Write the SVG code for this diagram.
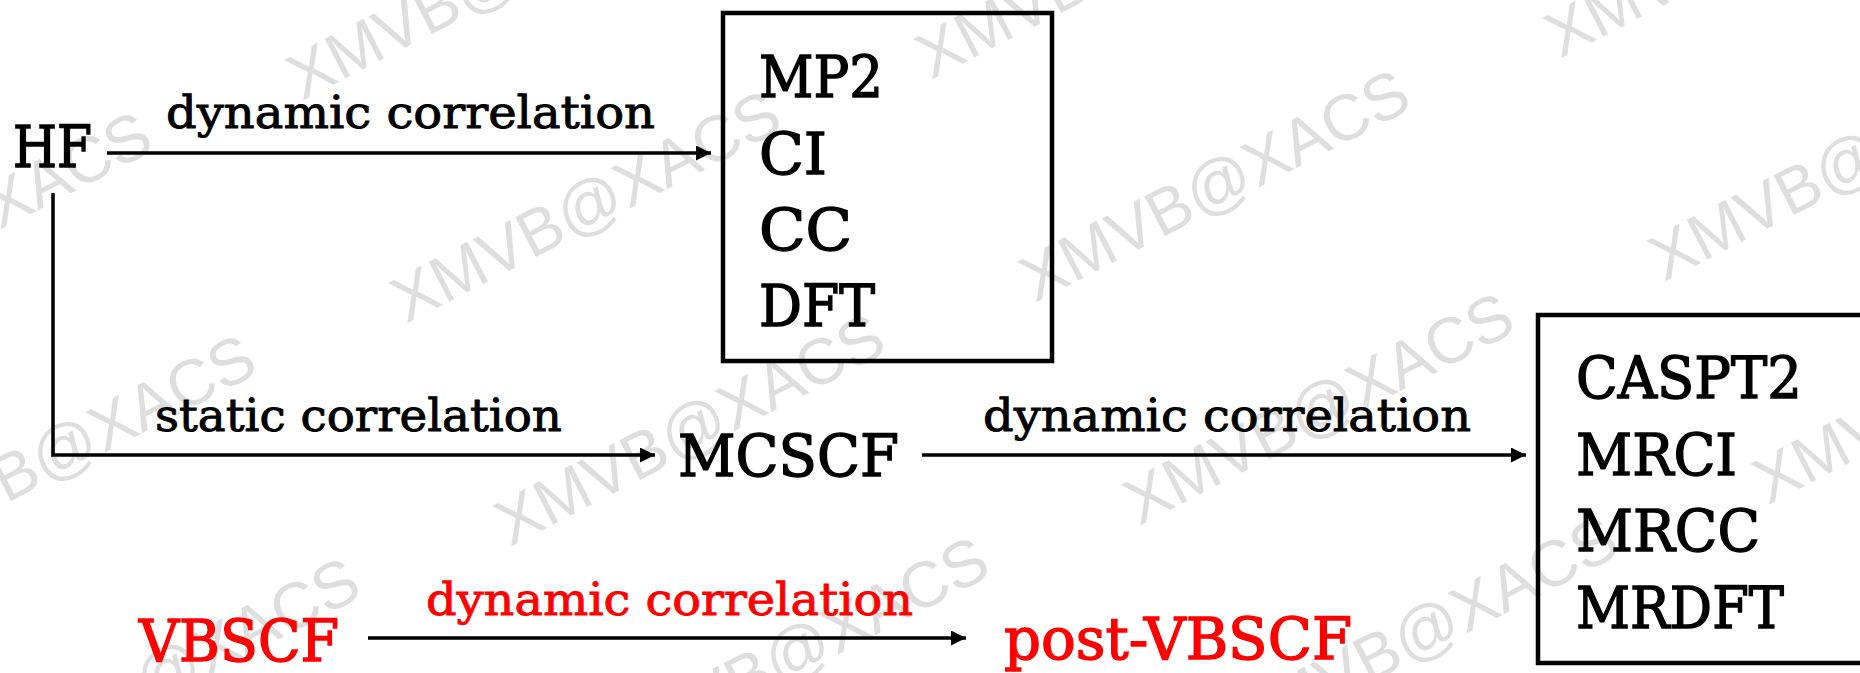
<svg xmlns="http://www.w3.org/2000/svg" width="1860" height="673" viewBox="0 0 1860 673">
<style>
.wm{font-family:"Liberation Sans",Arial,sans-serif;font-size:65px;fill:#dedede}
.big{font-family:"DejaVu Serif",serif;font-size:57px;fill:#000;stroke:#000;stroke-width:1.4}
.lbl{font-family:"DejaVu Serif",serif;font-size:45px;fill:#000;stroke:#000;stroke-width:0.9}
.red{fill:#ff0000;stroke:#ff0000}
.conn{stroke:#000;stroke-width:3.5;fill:none}
.box{stroke:#000;stroke-width:4.5;fill:none}
</style>
<defs>
<marker id="ah" markerUnits="userSpaceOnUse" markerWidth="16" markerHeight="16" refX="15" refY="7.5" orient="auto"><path d="M0,0 L15,7.5 L0,15 z" fill="#000"/></marker>
</defs>
<rect width="1860" height="673" fill="#fff"/>
<g id="watermark">
<text class="wm" transform="translate(-327,122) rotate(-27.3)">XMVB@XACS</text>
<text class="wm" transform="translate(302,101) rotate(-27.3)">XMVB@XACS</text>
<text class="wm" transform="translate(931,80) rotate(-27.3)">XMVB@XACS</text>
<text class="wm" transform="translate(1560,59) rotate(-27.3)">XMVB@XACS</text>
<text class="wm" transform="translate(-223,345) rotate(-27.3)">XMVB@XACS</text>
<text class="wm" transform="translate(406,324) rotate(-27.3)">XMVB@XACS</text>
<text class="wm" transform="translate(1035,303) rotate(-27.3)">XMVB@XACS</text>
<text class="wm" transform="translate(1664,282) rotate(-27.3)">XMVB@XACS</text>
<text class="wm" transform="translate(-119,568) rotate(-27.3)">XMVB@XACS</text>
<text class="wm" transform="translate(510,547) rotate(-27.3)">XMVB@XACS</text>
<text class="wm" transform="translate(1139,526) rotate(-27.3)">XMVB@XACS</text>
<text class="wm" transform="translate(1768,505) rotate(-27.3)">XMVB@XACS</text>
<text class="wm" transform="translate(-15,791) rotate(-27.3)">XMVB@XACS</text>
<text class="wm" transform="translate(614,770) rotate(-27.3)">XMVB@XACS</text>
<text class="wm" transform="translate(1243,749) rotate(-27.3)">XMVB@XACS</text>
</g>
<g id="connectors">
<line class="conn" x1="107" y1="153" x2="711" y2="153" marker-end="url(#ah)"/>
<polyline class="conn" points="53,193 53,455 655,455" marker-end="url(#ah)"/>
<line class="conn" x1="922" y1="455" x2="1526" y2="455" marker-end="url(#ah)"/>
<line class="conn" x1="368" y1="638" x2="966" y2="638" marker-end="url(#ah)"/>
<text class="lbl" x="166" y="128" textLength="489" lengthAdjust="spacingAndGlyphs">dynamic correlation</text>
<text class="lbl" x="155" y="431" textLength="407" lengthAdjust="spacingAndGlyphs">static correlation</text>
<text class="lbl" x="983" y="431" textLength="488" lengthAdjust="spacingAndGlyphs">dynamic correlation</text>
<text class="lbl red" x="426" y="615" textLength="487" lengthAdjust="spacingAndGlyphs">dynamic correlation</text>
</g>
<g id="node-hf">
<text class="big" x="13" y="167" textLength="79" lengthAdjust="spacingAndGlyphs">HF</text>
</g>
<g id="node-single-ref">
<rect class="box" x="723" y="13" width="329" height="348"/>
<text class="big" x="759" y="97" textLength="124" lengthAdjust="spacingAndGlyphs">MP2</text>
<text class="big" x="759" y="174" textLength="68" lengthAdjust="spacingAndGlyphs">CI</text>
<text class="big" x="759" y="250" textLength="93" lengthAdjust="spacingAndGlyphs">CC</text>
<text class="big" x="759" y="326" textLength="116" lengthAdjust="spacingAndGlyphs">DFT</text>
</g>
<g id="node-mcscf">
<text class="big" x="678" y="476" textLength="221" lengthAdjust="spacingAndGlyphs">MCSCF</text>
</g>
<g id="node-multi-ref">
<rect class="box" x="1538" y="315" width="400" height="348"/>
<text class="big" x="1576" y="398" textLength="226" lengthAdjust="spacingAndGlyphs">CASPT2</text>
<text class="big" x="1576" y="475" textLength="161" lengthAdjust="spacingAndGlyphs">MRCI</text>
<text class="big" x="1576" y="551" textLength="184" lengthAdjust="spacingAndGlyphs">MRCC</text>
<text class="big" x="1576" y="628" textLength="208" lengthAdjust="spacingAndGlyphs">MRDFT</text>
</g>
<g id="node-vbscf">
<text class="big red" x="139" y="661" textLength="200" lengthAdjust="spacingAndGlyphs">VBSCF</text>
</g>
<g id="node-post-vbscf">
<text class="big red" x="1004" y="659" textLength="348" lengthAdjust="spacingAndGlyphs">post-VBSCF</text>
</g>
</svg>
